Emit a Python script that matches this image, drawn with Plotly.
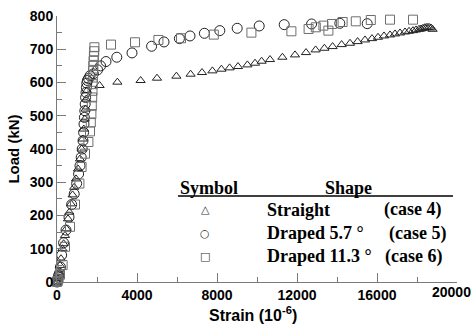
import plotly.graph_objects as go

# Load–strain readings for the three tendon profiles
strain_case4 = [0, 40, 90, 150, 200, 270, 330, 400, 470, 550, 620, 700, 780, 860, 950,
                1050, 1150, 1230, 1290, 1340, 1390, 1430, 1460, 1490, 2130, 3020, 4180,
                5000, 5970, 6680, 7250, 7770, 8220, 8630, 9050, 9520, 9900, 10230, 10650,
                11270, 11900, 12450, 12930, 13370, 13780, 14230, 14650, 15030, 15400,
                15750, 16050, 16350, 16650, 16900, 17150, 17400, 17600, 17800, 17950,
                18100, 18200, 18300, 18400, 18500, 18600, 18700, 18780]
load_case4 = [0, 12, 28, 50, 70, 100, 115, 140, 160, 190, 210, 235, 262, 285, 310,
              340, 370, 400, 430, 460, 490, 520, 550, 575, 591, 601, 606,
              613, 619, 625, 630, 635, 640, 644, 648, 653, 658, 664, 669,
              676, 683, 690, 698, 703, 708, 714, 718, 723, 728,
              732, 736, 740, 743, 746, 749, 752, 754, 756, 758,
              760, 761, 763, 765, 766, 766, 764, 760]

strain_case5 = [0, 15, 35, 60, 90, 117, 170, 233, 330, 450, 600, 733, 860, 983, 1080,
                1150, 1210, 1260, 1300, 1330, 1350, 1370, 1390, 1410, 1430, 1450, 1470,
                1490, 1520, 1580, 1650, 1820, 2030, 2180, 2450, 2990, 3750, 4730, 5350,
                6120, 6650, 7370, 8140, 9010, 10110, 11360, 12730, 14140, 15510]
load_case5 = [0, 4, 9, 15, 20, 26, 45, 81, 118, 156, 195, 233, 265, 296, 325,
              350, 375, 400, 425, 450, 475, 495, 515, 535, 555, 570, 585,
              598, 606, 612, 620, 626, 638, 650, 663, 676, 689, 709, 722,
              732, 740, 748, 756, 763, 770, 774, 776, 778, 777]

strain_case6 = [0, 40, 80, 150, 280, 400, 650, 900, 1120, 1230, 1400, 1570, 1650, 1690,
                1720, 1740, 1760, 1775, 1785, 1795, 1805, 1815, 1830, 1845, 1860, 1870,
                2700, 3900, 5070, 6200, 7840, 9720, 11720, 12580, 12940, 13320, 13570,
                13750, 14280, 14940, 15690, 16650, 17800]
load_case6 = [0, 3, 10, 22, 51, 106, 166, 233, 296, 346, 386, 421, 453, 480,
              505, 530, 555, 575, 595, 615, 635, 650, 665, 680, 694, 706,
              714, 721, 728, 733, 744, 750, 754, 761, 766, 771, 756,
              776, 782, 784, 788, 789, 789]

x_ticks = [0, 4000, 8000, 12000, 16000, 20000]
y_ticks = [0, 100, 200, 300, 400, 500, 600, 700, 800]

legend_rows = [
    ("△", "Straight", "(case 4)"),
    ("○", "Draped 5.7 °", "(case 5)"),
    ("□", "Draped 11.3 °", "(case 6)"),
]

fig = go.Figure()
fig.add_trace(go.Scatter(
    x=strain_case4, y=load_case4, mode="markers", cliponaxis=False,
    marker=dict(symbol="triangle-up-open", size=8, color="#222222",
                line=dict(width=1))))
fig.add_trace(go.Scatter(
    x=strain_case5, y=load_case5, mode="markers", cliponaxis=False,
    marker=dict(symbol="circle-open", size=10, color="#222222",
                line=dict(width=1))))
fig.add_trace(go.Scatter(
    x=strain_case6, y=load_case6, mode="markers", cliponaxis=False,
    marker=dict(symbol="square-open", size=9, color="#6e6e6e",
                line=dict(width=1))))

tick_font = dict(family="Liberation Sans", size=14, color="black", weight="bold")
axis_common = dict(
    showgrid=False, zeroline=False, showline=True, linecolor="#7a7a7a",
    linewidth=1, ticks="inside", ticklen=9, tickcolor="#7a7a7a",
    tickfont=tick_font, mirror=False, automargin=False,
)

# the last x label sits flush with the right edge, so it is placed separately
x_labels = [str(v) for v in x_ticks[:-1]] + [""]

fig.update_xaxes(
    range=[0, 20000], tickvals=x_ticks, ticktext=x_labels,
    minor=dict(dtick=2000, ticks="inside", ticklen=5, tickcolor="#7a7a7a"),
    **axis_common)
fig.update_yaxes(
    range=[0, 800], tickvals=y_ticks, ticktext=[str(v) for v in y_ticks],
    minor=dict(dtick=50, ticks="inside", ticklen=5, tickcolor="#7a7a7a"),
    title=dict(text="Load (kN)", standoff=6, font=dict(tick_font, size=15)),
    **axis_common)

# Hand-built key in the lower right of the plot area
serif = dict(family="Liberation Serif", size=18, color="black", weight="bold")
annotations = [
    dict(text="Symbol", x=0.3025, y=0.353),
    dict(text="Shape", x=0.665, y=0.353),
]
row_y = [0.271, 0.184, 0.096]
case_x = [0.8125, 0.825, 0.815]
for (sym, shape, case), yy, cx in zip(legend_rows, row_y, case_x):
    annotations.append(dict(text=sym, x=0.37, y=yy, xanchor="center",
                            font=dict(family="DejaVu Sans", size=11, color="#333333")))
    annotations.append(dict(text=shape, x=0.52, y=yy))
    annotations.append(dict(text=case, x=cx, y=yy))
for a in annotations:
    a.setdefault("xanchor", "left")
    a.setdefault("font", serif)
    a.update(xref="paper", yref="paper", yanchor="middle", showarrow=False)

annotations.append(dict(text=str(x_ticks[-1]), xref="paper", yref="paper",
                        x=1.04, y=-0.036, xanchor="right", yanchor="middle",
                        showarrow=False, font=tick_font))
# x-axis title, set just under the tick labels
annotations.append(dict(text="Strain (10<sup>-6</sup>)", xref="paper", yref="paper",
                        x=0.49, y=-0.074, xanchor="center", yanchor="top",
                        showarrow=False, font=dict(tick_font, size=16)))

fig.update_layout(
    width=474, height=324,
    margin=dict(l=57, r=17, t=16, b=42),
    paper_bgcolor="white", plot_bgcolor="white",
    showlegend=False,
    annotations=annotations,
    shapes=[dict(type="line", xref="paper", yref="paper",
                 x0=0.3025, x1=0.99, y0=0.323, y1=0.323,
                 line=dict(color="black", width=1.5))],
)

fig.write_html("out.html")
